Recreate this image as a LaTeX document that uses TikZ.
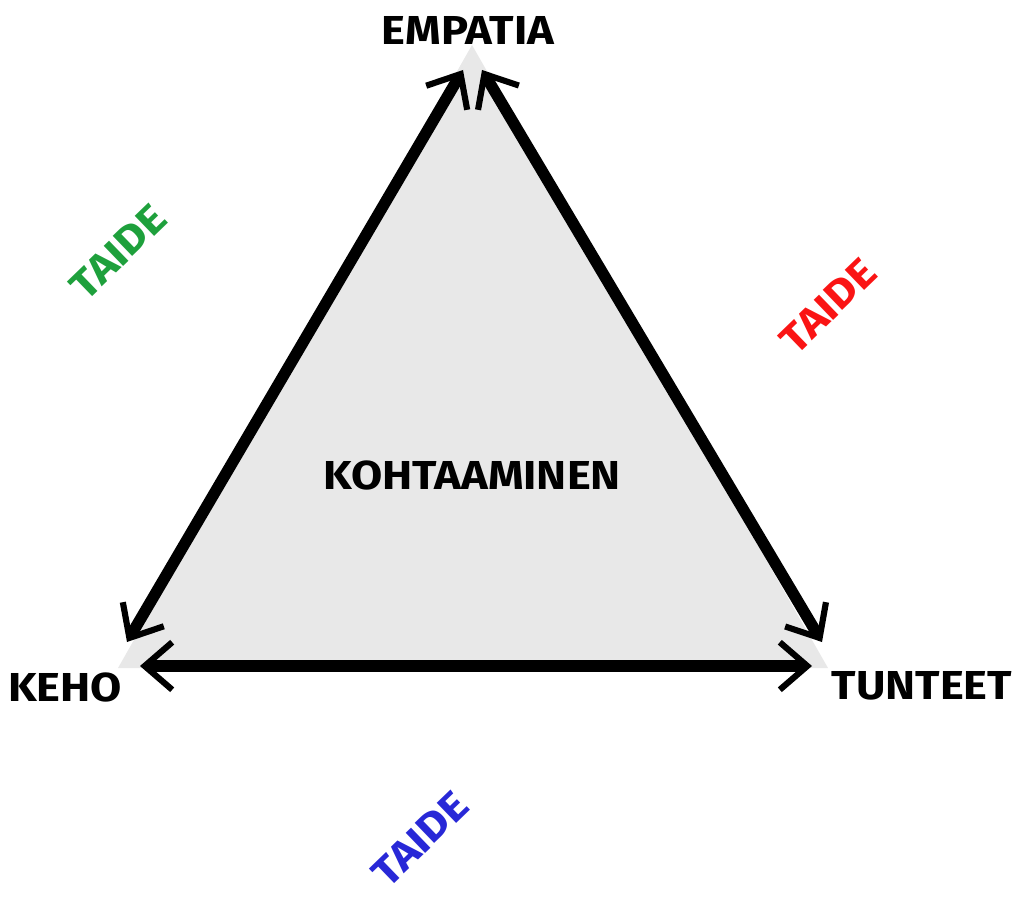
\documentclass[tikz,border=0pt]{standalone}
\usepackage{fontspec}
\setmainfont[FakeStretch=1.12]{Fira Sans}
\usetikzlibrary{arrows.meta}

\definecolor{taidegreen}{RGB}{30,160,60}
\definecolor{taidered}{RGB}{250,20,20}
\definecolor{taideblue}{RGB}{40,40,215}

\tikzset{
  corner/.style={font=\fontsize{23}{27}\selectfont\bfseries},
  taide/.style={font=\fontsize{23}{27}\selectfont\bfseries, rotate=44},
  side/.style={line width=6.5pt, {Straight Barb[length=5.5mm,width=9.5mm,line width=3.5pt]}-{Straight Barb[length=5.5mm,width=9.5mm,line width=3.5pt]}}
}

\begin{document}
\begin{tikzpicture}
  \useasboundingbox (0,0) rectangle (20.44,17.94);

  % Kolmion kulmat
  \coordinate (top) at (9.44,17.04);
  \coordinate (left) at (2.36,4.58);
  \coordinate (right) at (16.56,4.58);
  \fill[black!9] (top) -- (left) -- (right) -- cycle;

  % Nuolten paat
  \coordinate (lt) at (9.26,16.54);
  \coordinate (lb) at (2.54,5.10);
  \coordinate (rt) at (9.64,16.54);
  \coordinate (rb) at (16.44,5.10);
  \coordinate (bl) at (2.80,4.62);
  \coordinate (br) at (16.24,4.62);

  \draw[side] (lb) -- (lt);
  \draw[side] (rt) -- (rb);
  \draw[side] (bl) -- (br);

  % Tekstit
  \node[corner] (empatia) at (9.36,17.34) {EMPATIA};
  \node[corner] (keho) at (1.30,4.20) {KEHO};
  \node[corner] (tunteet) at (18.44,4.22) {TUNTEET};
  \node[corner] (kohtaaminen) at (9.44,8.44) {KOHTAAMINEN};

  \node[taide, text=taidegreen] (taide1) at (2.36,12.90) {TAIDE};
  \node[taide, text=taidered] (taide2) at (16.56,11.82) {TAIDE};
  \node[taide, text=taideblue] (taide3) at (8.40,1.16) {TAIDE};
\end{tikzpicture}
\end{document}
